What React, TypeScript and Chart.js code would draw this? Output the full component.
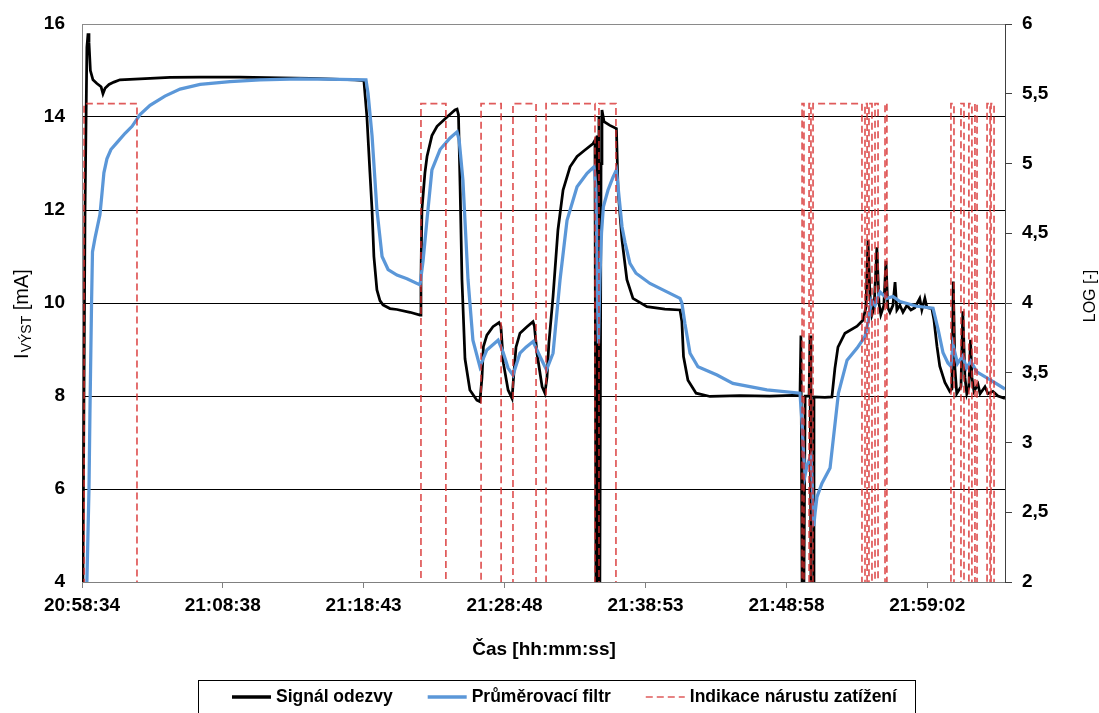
import React, { useEffect, useRef } from 'react';
import { Chart, registerables } from 'chart.js';

Chart.register(...registerables);

const FONT = '"Liberation Sans", Arial, sans-serif';

// x axis: seconds elapsed since 20:58:34
const tickSeconds = [0, 604, 1209, 1814, 2419, 3024, 3628];
const tickLabels = ['20:58:34', '21:08:38', '21:18:43', '21:28:48', '21:38:53', '21:48:58', '21:59:02'];
const timeMax = 3962;

// Signál odezvy [mA]
const signalTime = [4, 13, 21, 26, 30, 36, 47, 64, 82, 90,
  99, 116, 137, 163, 249, 378, 507, 678, 850, 979,
  1107, 1172, 1210, 1223, 1236, 1245, 1253, 1266, 1279, 1292,
  1322, 1352, 1408, 1451, 1455, 1459, 1472, 1481, 1502, 1524,
  1567, 1601, 1610, 1616, 1623, 1631, 1644, 1665, 1695, 1708,
  1717, 1723, 1738, 1764, 1790, 1798, 1809, 1829, 1846, 1854,
  1863, 1880, 1910, 1936, 1942, 1953, 1975, 1987, 1996, 2004,
  2022, 2043, 2065, 2095, 2125, 2159, 2194, 2202, 2206, 2211,
  2215, 2219, 2223, 2228, 2232, 2241, 2266, 2294, 2301, 2318,
  2339, 2365, 2425, 2502, 2567, 2575, 2582, 2601, 2636, 2696,
  2824, 2953, 3082, 3086, 3091, 3099, 3104, 3121, 3125, 3129,
  3138, 3142, 3189, 3219, 3232, 3245, 3275, 3327, 3352, 3365,
  3374, 3382, 3391, 3400, 3412, 3421, 3429, 3442, 3451, 3459,
  3468, 3481, 3490, 3498, 3511, 3524, 3541, 3558, 3575, 3596,
  3605, 3618, 3627, 3648, 3657, 3670, 3682, 3704, 3725, 3734,
  3740, 3747, 3755, 3773, 3781, 3790, 3798, 3807, 3814, 3820,
  3829, 3846, 3855, 3876, 3889, 3910, 3932, 3962];
const signalValue = [4.0, 12.0, 15.5, 15.8, 15.6, 15.0, 14.8, 14.72, 14.65, 14.5,
  14.62, 14.7, 14.75, 14.8, 14.82, 14.85, 14.86, 14.86, 14.84, 14.83,
  14.81, 14.8, 14.78, 14.0, 12.8, 12.0, 11.0, 10.28, 10.05, 9.96,
  9.88, 9.86, 9.8, 9.74, 10.5, 12.0, 12.8, 13.15, 13.6, 13.8,
  14.0, 14.15, 14.17, 14.05, 12.5, 10.5, 8.8, 8.13, 7.91, 7.88,
  8.4, 9.06, 9.31, 9.49, 9.58, 9.5, 8.7, 8.13, 7.95, 8.5,
  9.05, 9.35, 9.49, 9.6, 9.5, 8.92, 8.2, 8.06, 8.4, 9.13,
  10.14, 11.57, 12.43, 12.93, 13.15, 13.29, 13.43, 13.5, 4.0, 13.6,
  4.0, 14.0, 4.0, 13.0, 14.15, 13.9, 13.82, 13.75, 12.43, 11.35,
  10.5, 10.1, 9.92, 9.87, 9.85, 9.6, 8.85, 8.34, 8.06, 7.99,
  8.01, 8.0, 8.02, 9.3, 4.0, 4.0, 8.0, 8.0, 9.3, 4.0,
  4.0, 7.98, 7.97, 7.98, 8.6, 9.05, 9.35, 9.5, 9.63, 9.9,
  11.35, 10.2, 9.75, 9.9, 11.2, 10.0, 9.75, 9.95, 10.9, 9.9,
  9.8, 9.95, 10.45, 9.85, 9.95, 9.8, 9.95, 9.85, 9.9, 10.1,
  9.85, 10.1, 9.9, 9.88, 9.64, 9.07, 8.64, 8.29, 8.1, 8.15,
  10.46, 8.6, 8.05, 8.2, 9.82, 8.4, 8.05, 8.2, 9.21, 8.4,
  8.1, 8.25, 8.05, 8.2, 8.05, 8.1, 8.0, 7.95];

// Průměrovací filtr [mA]
const filterTime = [21, 30, 34, 41, 45, 56, 77, 86, 94, 107,
  124, 150, 185, 215, 249, 292, 356, 421, 507, 635,
  764, 936, 1107, 1219, 1228, 1245, 1266, 1288, 1314, 1352,
  1395, 1451, 1464, 1481, 1502, 1537, 1580, 1610, 1619, 1635,
  1657, 1678, 1708, 1738, 1786, 1807, 1829, 1850, 1880, 1906,
  1936, 1966, 1994, 2022, 2052, 2082, 2125, 2168, 2198, 2206,
  2213, 2217, 2223, 2230, 2238, 2258, 2279, 2294, 2305, 2318,
  2331, 2352, 2378, 2438, 2511, 2567, 2575, 2588, 2610, 2644,
  2726, 2794, 2940, 3082, 3091, 3097, 3104, 3112, 3121, 3129,
  3134, 3141, 3147, 3155, 3176, 3211, 3226, 3247, 3284, 3327,
  3361, 3376, 3389, 3404, 3425, 3455, 3481, 3511, 3584, 3653,
  3675, 3696, 3717, 3730, 3739, 3758, 3780, 3797, 3815, 3841,
  3897, 3962];
const filterValue = [4.0, 6.0, 7.6, 10.0, 11.1, 11.4, 11.9, 12.37, 12.8, 13.1,
  13.3, 13.45, 13.65, 13.8, 14.05, 14.25, 14.45, 14.6, 14.7, 14.76,
  14.8, 14.82, 14.81, 14.8, 14.5, 13.6, 12.0, 11.0, 10.72, 10.6,
  10.52, 10.39, 10.9, 11.8, 12.86, 13.3, 13.55, 13.68, 13.5, 12.65,
  10.5, 9.2, 8.63, 8.99, 9.2, 8.95, 8.6, 8.45, 8.92, 9.05,
  9.17, 8.85, 8.56, 8.92, 10.5, 11.78, 12.5, 12.79, 12.93, 12.5,
  10.0, 9.13, 10.5, 11.5, 12.07, 12.43, 12.7, 12.86, 12.3, 11.64,
  11.3, 10.85, 10.64, 10.42, 10.24, 10.1, 10.0, 9.56, 8.92, 8.63,
  8.45, 8.27, 8.13, 8.06, 7.4, 6.77, 6.3, 6.5, 6.62, 6.7,
  6.2, 5.2, 5.5, 5.83, 6.12, 6.45, 7.12, 8.06, 8.77, 9.03,
  9.28, 9.63, 10.06, 9.95, 10.24, 10.1, 10.14, 10.03, 9.93, 9.89,
  9.43, 8.93, 8.71, 8.64, 9.1, 8.7, 8.86, 8.6, 8.75, 8.52,
  8.35, 8.15];

// Indikace nárustu zatížení (LOG axis): pulses start/end [s]
const alarmStart = [9, 1455, 1713, 1850, 1992, 2219, 3091, 3121, 3138, 3361, 3378, 3404, 3447, 3730, 3773, 3807, 3833, 3885, 3902];
const alarmEnd = [236, 1562, 1799, 1949, 2202, 2292, 3099, 3129, 3348, 3370, 3391, 3417, 3455, 3743, 3786, 3820, 3842, 3898, 3915];
const alarmHigh = 5.43;
const alarmLow = 1.5;

const signalData = signalTime.map((t, i) => ({ x: t, y: signalValue[i] }));
const filterData = filterTime.map((t, i) => ({ x: t, y: filterValue[i] }));
const alarmData: { x: number; y: number }[] = [];
alarmStart.forEach((s, i) => {
  alarmData.push({ x: s, y: alarmLow }, { x: s, y: alarmHigh }, { x: alarmEnd[i], y: alarmHigh }, { x: alarmEnd[i], y: alarmLow });
});

const decorPlugin = {
  id: 'decor',
  afterDraw(chart: any) {
    const ctx: CanvasRenderingContext2D = chart.ctx;
    ctx.save();
    ctx.fillStyle = '#000';

    // left axis title with subscript
    ctx.save();
    ctx.translate(28, 314);
    ctx.rotate(-Math.PI / 2);
    ctx.textBaseline = 'alphabetic';
    const big = `20px ${FONT}`;
    const small = `14px ${FONT}`;
    ctx.font = big;
    const w1 = ctx.measureText('I').width;
    const w3 = ctx.measureText(' [mA]').width;
    ctx.font = small;
    const w2 = ctx.measureText('VÝST').width;
    let x = -(w1 + w2 + w3 + 1) / 2;
    ctx.font = big;
    ctx.fillText('I', x, 0);
    x += w1 + 1;
    ctx.font = small;
    ctx.fillText('VÝST', x, 3);
    x += w2;
    ctx.font = big;
    ctx.fillText(' [mA]', x, 0);
    ctx.restore();

    // right axis title
    ctx.save();
    ctx.translate(1095, 296);
    ctx.rotate(-Math.PI / 2);
    ctx.font = `16px ${FONT}`;
    ctx.textAlign = 'center';
    ctx.textBaseline = 'alphabetic';
    ctx.fillText('LOG [-]', 0, 0);
    ctx.restore();

    // x axis title
    ctx.font = `bold 19px ${FONT}`;
    ctx.textAlign = 'center';
    ctx.textBaseline = 'middle';
    ctx.fillText('Čas [hh:mm:ss]', 544, 650);

    // legend
    ctx.strokeStyle = '#000';
    ctx.lineWidth = 1;
    ctx.setLineDash([]);
    ctx.strokeRect(198.5, 680.5, 717, 60);
    ctx.font = `bold 17.5px ${FONT}`;
    ctx.textAlign = 'left';
    ctx.textBaseline = 'middle';
    let lx = 232;
    const ly = 697;
    chart.data.datasets.forEach((ds: any) => {
      ctx.save();
      ctx.strokeStyle = ds.borderColor;
      ctx.lineWidth = ds.borderDash ? 1.5 : 3.5;
      ctx.setLineDash(ds.borderDash || []);
      ctx.beginPath();
      ctx.moveTo(lx, ly);
      ctx.lineTo(lx + 39, ly);
      ctx.stroke();
      ctx.restore();
      ctx.fillStyle = '#000';
      ctx.fillText(ds.label, lx + 44, ly);
      lx += 44 + ctx.measureText(ds.label).width + 35;
    });
    ctx.restore();
  },
};

export default function App() {
  const ref = useRef<HTMLCanvasElement>(null);
  useEffect(() => {
    const tickFont = { family: FONT, size: 19, weight: 'bold' as const };
    const chart = new Chart(ref.current!, {
      type: 'line',
      data: {
        datasets: [
          {
            label: 'Signál odezvy',
            data: signalData,
            yAxisID: 'y',
            borderColor: '#000000',
            borderWidth: 2.75,
            pointRadius: 0,
            tension: 0,
            order: 3,
          },
          {
            label: 'Průměrovací filtr',
            data: filterData,
            yAxisID: 'y',
            borderColor: '#5b97d8',
            borderWidth: 3.25,
            pointRadius: 0,
            tension: 0,
            order: 2,
          },
          {
            label: 'Indikace nárustu zatížení',
            data: alarmData,
            yAxisID: 'y1',
            borderColor: 'rgba(215, 45, 45, 0.78)',
            borderWidth: 1.75,
            borderDash: [7, 4],
            pointRadius: 0,
            tension: 0,
            order: 1,
          },
        ],
      },
      options: {
        responsive: false,
        animation: false,
        events: [],
        layout: { padding: { top: 24, left: 0, right: 0, bottom: 0 } },
        plugins: {
          legend: { display: false },
          tooltip: { enabled: false },
        },
        scales: {
          x: {
            type: 'linear',
            min: 0,
            max: timeMax,
            afterBuildTicks: (scale: any) => {
              scale.ticks = tickSeconds.map((v) => ({ value: v }));
            },
            afterFit: (scale: any) => {
              scale.height = 713 - 582;
              scale.paddingLeft = 0;
              scale.paddingRight = 0;
            },
            ticks: {
              autoSkip: false,
              maxRotation: 0,
              padding: 6,
              font: tickFont,
              color: '#000',
              callback: (_v: any, i: number) => tickLabels[i],
            },
            grid: { drawOnChartArea: false, drawTicks: true, tickLength: 6, color: '#808080' },
            border: { display: true, color: '#808080' },
          },
          y: {
            type: 'linear',
            position: 'left',
            min: 4,
            max: 16,
            afterFit: (scale: any) => {
              scale.width = 82;
              scale.paddingTop = 0;
              scale.paddingBottom = 0;
            },
            ticks: { stepSize: 2, padding: 17, font: tickFont, color: '#000' },
            grid: {
              drawTicks: false,
              color: (c: any) => (c.tick && (c.tick.value === 16 || c.tick.value === 4) ? '#8a8a8a' : '#000000'),
            },
            border: { display: true, color: '#8a8a8a' },
          },
          y1: {
            type: 'linear',
            position: 'right',
            min: 2,
            max: 6,
            afterFit: (scale: any) => {
              scale.width = 1099 - 1005;
              scale.paddingTop = 0;
              scale.paddingBottom = 0;
            },
            ticks: {
              stepSize: 0.5,
              padding: 10,
              font: tickFont,
              color: '#000',
              callback: (v: any) => String(v).replace('.', ','),
            },
            grid: { drawOnChartArea: false, drawTicks: true, tickLength: 7, color: '#404040' },
            border: { display: true, color: '#404040' },
          },
        },
      },
      plugins: [decorPlugin],
    } as any);
    return () => chart.destroy();
  }, []);
  return (
    <canvas
      ref={ref}
      width={1099}
      height={713}
      style={{ position: 'fixed', left: 0, top: 0, width: 1099, height: 713, display: 'block', background: '#fff' }}
    />
  );
}
